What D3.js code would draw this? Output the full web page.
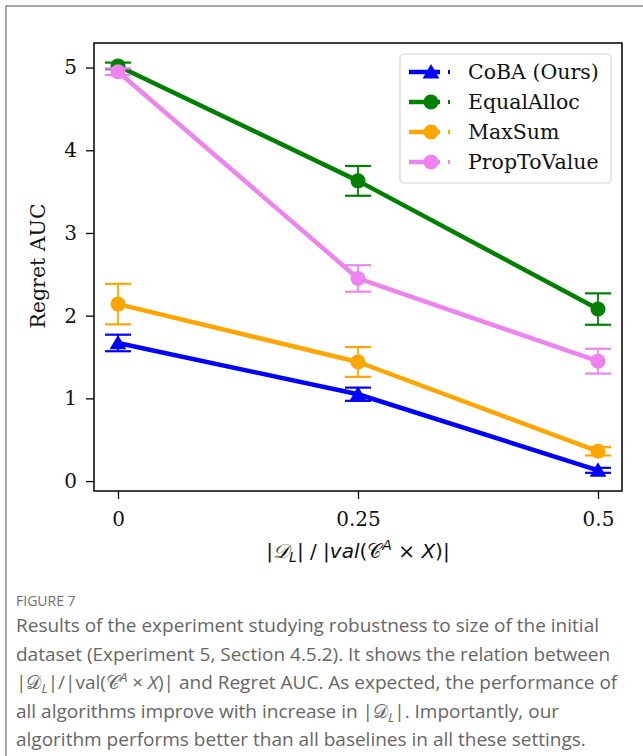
<!DOCTYPE html>
<html>
<head>
<meta charset="utf-8">
<script src="https://cdn.jsdelivr.net/npm/d3@7"></script>
<style>
  body { margin: 0; background: #fff; }
  svg { display: block; }
</style>
</head>
<body>
<div id="chart"></div>
<script>
// data
let xValues = [0, 0.25, 0.5];
let xTickLabels = ["0", "0.25", "0.5"];
let yTicks = [0, 1, 2, 3, 4, 5];
let seriesNames = ["CoBA (Ours)", "EqualAlloc", "MaxSum", "PropToValue"];
let seriesColors = ["#0000ff", "#008000", "#ffa500", "#ee82ee"];
let seriesMarkers = ["triangle", "circle", "circle", "circle"];
let cobaMean = [1.67, 1.05, 0.13];
let cobaErr = [0.10, 0.08, 0.03];
let equalMean = [5.02, 3.63, 2.08];
let equalErr = [0.04, 0.18, 0.19];
let maxSumMean = [2.14, 1.44, 0.36];
let maxSumErr = [0.245, 0.18, 0.05];
let propMean = [4.95, 2.45, 1.45];
let propErr = [0.04, 0.16, 0.15];

let means = [cobaMean, equalMean, maxSumMean, propMean];
let errs = [cobaErr, equalErr, maxSumErr, propErr];

let W = 643, H = 756;
let plot = {left: 94, right: 622, top: 43, bottom: 491};

let svg = d3.select("#chart")
    .append("svg")
    .attr("width", W)
    .attr("height", H);

// outer page frame
svg.append("path")
    .attr("d", "M6," + (H + 5) + " L6,6 L" + (W + 5) + ",6")
    .style("fill", "none")
    .style("stroke", "#8c8c8c")
    .style("stroke-width", 1.5);

let x = d3.scaleLinear()
    .domain([-0.025, 0.525])
    .range([plot.left, plot.right]);

let y = d3.scaleLinear()
    .domain([-0.12, 5.297])
    .range([plot.bottom, plot.top]);

// axes
let xAxis = d3.axisBottom(x)
    .tickValues(xValues)
    .tickFormat(function (d, i) { return xTickLabels[i]; })
    .tickSize(8)
    .tickPadding(8);

let yAxis = d3.axisLeft(y)
    .tickValues(yTicks)
    .tickFormat(d3.format("d"))
    .tickSize(8)
    .tickPadding(9);

let gx = svg.append("g")
    .attr("transform", "translate(0," + plot.bottom + ")")
    .call(xAxis);
let gy = svg.append("g")
    .attr("transform", "translate(" + plot.left + ",0)")
    .call(yAxis);

[gx, gy].forEach(function (g) {
    g.select(".domain").remove();
    g.selectAll(".tick line").style("stroke", "#000").style("stroke-width", 1.3);
    g.selectAll(".tick text")
        .style("font-family", "'DejaVu Serif', serif")
        .style("font-size", "20px")
        .style("fill", "#111");
});
gx.selectAll(".tick text").attr("dy", "0.95em");

// series
let line = d3.line()
    .x(function (d, i) { return x(xValues[i]); })
    .y(function (d) { return y(d); });

function marker(g, type, cx, cy, color, r) {
    if (type === "triangle") {
        g.append("path")
            .attr("d", "M" + cx + "," + (cy - r) + " L" + (cx + r * 1.05) + "," + (cy + r * 0.8) +
                " L" + (cx - r * 1.05) + "," + (cy + r * 0.8) + " Z")
            .style("fill", color);
    } else {
        g.append("circle")
            .attr("cx", cx)
            .attr("cy", cy)
            .attr("r", r)
            .style("fill", color);
    }
}

for (let s = 0; s < seriesNames.length; s++) {
    let g = svg.append("g").attr("class", "series" + s);
    let color = seriesColors[s];

    g.append("path")
        .datum(means[s])
        .attr("d", line)
        .style("fill", "none")
        .style("stroke", color)
        .style("stroke-width", 4.5)
        .style("stroke-linejoin", "round");

    means[s].forEach(function (m, i) {
        let cx = x(xValues[i]);
        let top = y(m + errs[s][i]),
            bot = y(m - errs[s][i]);
        g.append("line")
            .attr("x1", cx).attr("x2", cx)
            .attr("y1", top).attr("y2", bot)
            .style("stroke", color)
            .style("stroke-width", 1.8);
        [top, bot].forEach(function (yy) {
            g.append("line")
                .attr("x1", cx - 13).attr("x2", cx + 13)
                .attr("y1", yy).attr("y2", yy)
                .style("stroke", color)
                .style("stroke-width", 2.2);
        });
        marker(g, seriesMarkers[s], cx, y(m), color, seriesMarkers[s] === "triangle" ? 8 : 7.5);
    });
}

// plot frame
svg.append("rect")
    .attr("x", plot.left)
    .attr("y", plot.top)
    .attr("width", plot.right - plot.left)
    .attr("height", plot.bottom - plot.top)
    .style("fill", "none")
    .style("stroke", "#000")
    .style("stroke-width", 1.5);

// legend
let legend = svg.append("g");
legend.append("rect")
    .attr("x", 400)
    .attr("y", 54)
    .attr("width", 211)
    .attr("height", 129)
    .attr("rx", 4)
    .style("fill", "#fff")
    .style("fill-opacity", 0.8)
    .style("stroke", "#d5d5d5")
    .style("stroke-width", 1.2);

seriesNames.forEach(function (name, i) {
    let ly = 72 + i * 30;
    let color = seriesColors[i];
    legend.append("line")
        .attr("x1", 409).attr("x2", 440)
        .attr("y1", ly).attr("y2", ly)
        .style("stroke", color)
        .style("stroke-width", 4.5);
    marker(legend, seriesMarkers[i], 431, ly, color, seriesMarkers[i] === "triangle" ? 8 : 7.5);
    legend.append("line")
        .attr("x1", 449).attr("x2", 449)
        .attr("y1", ly - 2).attr("y2", ly + 2)
        .style("stroke", color)
        .style("stroke-width", 2);
    legend.append("text")
        .attr("x", 468)
        .attr("y", ly)
        .attr("dy", "0.36em")
        .text(name)
        .style("font-family", "'DejaVu Serif', serif")
        .style("font-size", "20.5px")
        .style("fill", "#111");
});

// axis titles
svg.append("text")
    .attr("transform", "translate(45,266) rotate(-90)")
    .style("text-anchor", "middle")
    .style("font-family", "'DejaVu Serif', serif")
    .style("font-size", "20.5px")
    .style("fill", "#111")
    .text("Regret AUC");

let xt = svg.append("text")
    .attr("x", 358)
    .attr("y", 558)
    .style("text-anchor", "middle")
    .style("font-family", "'DejaVu Sans', sans-serif")
    .style("font-size", "20px")
    .style("fill", "#111");
xt.append("tspan").text("|");
xt.append("tspan").text("\u{1D49F}").style("font-style", "italic");
xt.append("tspan").text("L").attr("dy", 4).style("font-size", "14px").style("font-style", "italic");
xt.append("tspan").text("| / |").attr("dy", -4);
xt.append("tspan").text("val").style("font-style", "italic");
xt.append("tspan").text("(");
xt.append("tspan").text("\u{1D49E}");
xt.append("tspan").text("A").attr("dy", -8).style("font-size", "14px").style("font-style", "italic");
xt.append("tspan").text(" \u00d7 ").attr("dy", 8);
xt.append("tspan").text("X").style("font-style", "italic");
xt.append("tspan").text(")|");

// caption
let cap = svg.append("g")
    .style("font-family", "'Open Sans', sans-serif")
    .style("fill", "#666");

cap.append("text")
    .attr("x", 16)
    .attr("y", 606)
    .style("font-size", "14px")
    .style("fill", "#707070")
    .text("FIGURE 7");

let capLines = [
    ["Results of the experiment studying robustness to size of the initial"],
    ["dataset (Experiment 5, Section 4.5.2). It shows the relation between"],
    null,
    ["all algorithms improve with increase in |", "D", "L", "|. Importantly, our"],
    ["algorithm performs better than all baselines in all these settings."]
];

let capY = [632, 661, 689, 718, 746];
capLines.forEach(function (ln, i) {
    let t = cap.append("text")
        .attr("x", 16)
        .attr("y", capY[i])
        .style("font-size", "19px");
    if (i === 2) {
        t.append("tspan").text("|");
        t.append("tspan").text("\u{1D49F}");
        t.append("tspan").text("L").attr("dy", 4).style("font-size", "13px").style("font-style", "italic");
        t.append("tspan").text("|/|val(").attr("dy", -4);
        t.append("tspan").text("\u{1D49E}");
        t.append("tspan").text("A").attr("dy", -7).style("font-size", "13px").style("font-style", "italic");
        t.append("tspan").text(" \u00d7 ").attr("dy", 7);
        t.append("tspan").text("X").style("font-style", "italic");
        t.append("tspan").text(")| and Regret AUC. As expected, the performance of");
    } else if (ln.length > 1) {
        t.append("tspan").text(ln[0]);
        t.append("tspan").text("\u{1D49F}");
        t.append("tspan").text("L").attr("dy", 4).style("font-size", "13px").style("font-style", "italic");
        t.append("tspan").text(ln[3]).attr("dy", -4);
    } else {
        t.text(ln[0]);
    }
});
</script>
</body>
</html>
